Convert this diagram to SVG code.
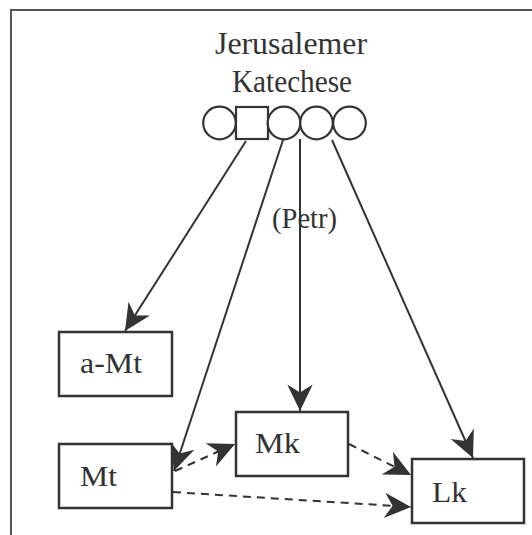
<svg xmlns="http://www.w3.org/2000/svg" width="532" height="535" viewBox="0 0 532 535">
<style>
.box{fill:#fff;stroke:#333;stroke-width:2.5}
.sh{fill:#fff;stroke:#333;stroke-width:2.2}
.t{font-family:"Liberation Serif","Times New Roman",serif;font-size:30px;fill:#333}
.tt{font-size:32px}
.c{fill:none;stroke:#333;stroke-width:2}
.d{stroke-dasharray:8,6}
</style>
<defs>
<marker id="ah" markerUnits="userSpaceOnUse" markerWidth="30" markerHeight="30" viewBox="-24 -12 26 24" refX="0" refY="0" orient="auto">
<path d="M0,0 L-23,-11 L-16,0 L-23,11 Z" fill="#333"/>
</marker>
</defs>
<path d="M10,10 H532 M11,10 V535" fill="none" stroke="#555" stroke-width="2"/>
<g id="source">
<text class="t tt" x="291" y="54" text-anchor="middle" textLength="152" lengthAdjust="spacingAndGlyphs">Jerusalemer</text>
<text class="t tt" x="292" y="92" text-anchor="middle" textLength="120" lengthAdjust="spacingAndGlyphs">Katechese</text>
<circle class="sh" cx="219.5" cy="123" r="16.3"/>
<rect class="sh" x="236" y="107" width="32" height="32"/>
<circle class="sh" cx="284" cy="123" r="16.3"/>
<circle class="sh" cx="316.5" cy="123" r="16.3"/>
<circle class="sh" cx="349.5" cy="123" r="16.3"/>
</g>
<g id="aMt"><rect class="box" x="59" y="332" width="113" height="64"/><text class="t" x="80" y="373" textLength="62" lengthAdjust="spacingAndGlyphs">a-Mt</text></g>
<g id="Mt"><rect class="box" x="59" y="444" width="113" height="64"/><text class="t" x="80" y="486" textLength="37" lengthAdjust="spacingAndGlyphs">Mt</text></g>
<g id="Mk"><rect class="box" x="236" y="412" width="112" height="64"/><text class="t" x="255" y="453" textLength="45" lengthAdjust="spacingAndGlyphs">Mk</text></g>
<g id="Lk"><rect class="box" x="412" y="459" width="112" height="64"/><text class="t" x="432" y="502" textLength="35" lengthAdjust="spacingAndGlyphs">Lk</text></g>
<g id="connectors">
<path class="c" d="M246,141 L125,331" marker-end="url(#ah)"/>
<path class="c" d="M283,140 L174,471" marker-end="url(#ah)"/>
<path class="c" d="M300,139 L300,411" marker-end="url(#ah)"/>
<path class="c" d="M332,140 L473,458" marker-end="url(#ah)"/>
<path class="c d" d="M175,471 L235,444" marker-end="url(#ah)"/>
<path class="c d" d="M349,444 L411,475" marker-end="url(#ah)"/>
<path class="c d" d="M173,492 L411,507" marker-end="url(#ah)"/>
</g>
<text class="t" x="272" y="228" textLength="65" lengthAdjust="spacingAndGlyphs">(Petr)</text>
</svg>
